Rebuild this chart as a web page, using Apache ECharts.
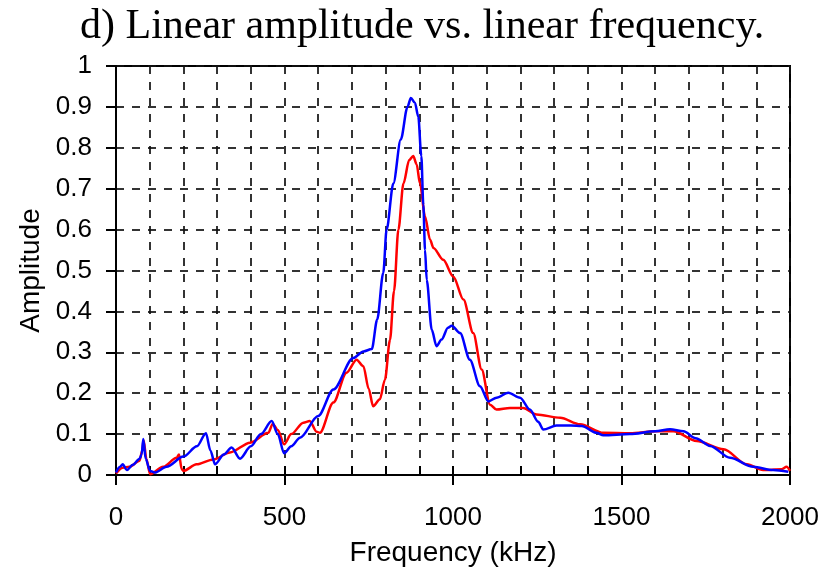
<!DOCTYPE html>
<html>
<head>
<meta charset="utf-8">
<script src="https://cdn.jsdelivr.net/npm/echarts@6/dist/echarts.min.js"></script>
<style>html,body{margin:0;padding:0;background:#fff;}#chart{width:828px;height:572px;}</style>
</head>
<body>
<div id="chart"></div>
<script>
const titleText = 'd) Linear amplitude vs. linear frequency.';
const xName = 'Frequency (kHz)';
const yName = 'Amplitude';

const redFreq = [0,20,40,70,78,82,90,101,140,180,187,195,200,239,289,338,398,452,465,480,499,520,556,575,595,605,645,684,714,734,750,763,783,798,813,825,838,853,870,882,892,902,917,932,942,971,1001,1031,1060,1085,1110,1129,1169,1208,1248,1318,1377,1446,1525,1604,1654,1723,1803,1872,1920,1975,1990,2000];
const redAmp  = [0.004,0.018,0.02,0.035,0.06,0.085,0.04,0.002,0.02,0.042,0.05,0.014,0.01,0.026,0.038,0.055,0.079,0.103,0.125,0.11,0.075,0.1,0.128,0.132,0.106,0.103,0.177,0.25,0.282,0.266,0.21,0.168,0.185,0.233,0.33,0.45,0.6,0.713,0.77,0.78,0.76,0.713,0.632,0.575,0.555,0.526,0.485,0.429,0.347,0.258,0.172,0.16,0.164,0.164,0.148,0.14,0.124,0.103,0.102,0.107,0.107,0.083,0.063,0.026,0.012,0.014,0.02,0.01];

const blueFreq = [0,12,20,32,50,70,76,81,88,101,115,150,200,240,267,280,294,320,343,368,400,430,462,480,499,520,546,600,645,704,734,759,775,793,803,823,845,865,875,887,897,906,912,917,922,937,951,966,985,996,1021,1050,1080,1105,1129,1164,1199,1228,1253,1268,1307,1350,1382,1426,1446,1525,1600,1644,1684,1720,1763,1822,1891,1950,1995];
const blueAmp  = [0.006,0.02,0.026,0.012,0.025,0.04,0.05,0.088,0.04,0.01,0.006,0.02,0.045,0.07,0.102,0.06,0.026,0.05,0.067,0.04,0.07,0.1,0.132,0.1,0.053,0.07,0.091,0.144,0.209,0.286,0.302,0.308,0.38,0.494,0.6,0.713,0.82,0.9,0.922,0.91,0.876,0.78,0.66,0.55,0.477,0.355,0.315,0.331,0.36,0.365,0.347,0.282,0.217,0.18,0.189,0.201,0.189,0.16,0.13,0.111,0.121,0.121,0.12,0.103,0.097,0.1,0.107,0.112,0.107,0.09,0.071,0.042,0.02,0.012,0.008];

const xMin = 0, xMax = 2000, xMajor = 500, xMinor = 100;
const yMin = 0, yMax = 1, yStep = 0.1;

const pairs = (xs, ys) => xs.map((x, i) => [x, ys[i]]);

const chart = echarts.init(document.getElementById('chart'));
const sans = 'Liberation Sans';
const dash = { color: '#111', width: 1.7, type: [8, 8] };
chart.setOption({
  animation: false,
  backgroundColor: '#fff',
  title: {
    text: titleText, left: 75, top: 1,
    textStyle: { fontFamily: 'Liberation Serif', fontWeight: 'normal', fontSize: 42, color: '#000' }
  },
  grid: { left: 116, right: 38, top: 66, bottom: 96, show: true, borderColor: '#000', borderWidth: 2 },
  xAxis: [{
    type: 'value', min: xMin, max: xMax, interval: xMajor,
    name: xName, nameLocation: 'middle', nameGap: 64,
    nameTextStyle: { fontFamily: sans, fontSize: 28, color: '#000' },
    axisLine: { lineStyle: { color: '#000', width: 2 } },
    axisTick: { inside: false, length: 10, lineStyle: { color: '#000', width: 2 } },
    axisLabel: { fontFamily: sans, fontSize: 26, color: '#000', margin: 30, formatter: v => String(v) },
    splitLine: { show: false }
  }, {
    type: 'value', min: xMin, max: xMax, interval: xMinor, position: 'bottom',
    axisLine: { show: false },
    axisTick: { inside: true, length: 9, lineStyle: { color: '#000', width: 2 } },
    axisLabel: { show: false },
    splitLine: { show: true, lineStyle: dash }
  }],
  yAxis: {
    type: 'value', min: yMin, max: yMax, interval: yStep,
    name: yName, nameLocation: 'middle', nameGap: 69,
    nameTextStyle: { fontFamily: sans, fontSize: 28, color: '#000' },
    axisLine: { show: true, lineStyle: { color: '#000', width: 2 } },
    axisTick: { show: true, inside: false, length: 10, lineStyle: { color: '#000', width: 2 } },
    axisLabel: { fontFamily: sans, fontSize: 26, color: '#000', margin: 24 },
    splitLine: { show: true, lineStyle: dash }
  },
  series: [{
    type: 'line', name: 'red', data: pairs(redFreq, redAmp), xAxisIndex: 0,
    showSymbol: false, smooth: 0.3, smoothMonotone: 'x',
    lineStyle: { color: '#ff0000', width: 2.5 }, z: 3
  }, {
    type: 'line', name: 'blue', data: pairs(blueFreq, blueAmp), xAxisIndex: 0,
    showSymbol: false, smooth: 0.3, smoothMonotone: 'x',
    lineStyle: { color: '#0000ff', width: 2.5 }, z: 4
  }]
});
</script>
</body>
</html>
